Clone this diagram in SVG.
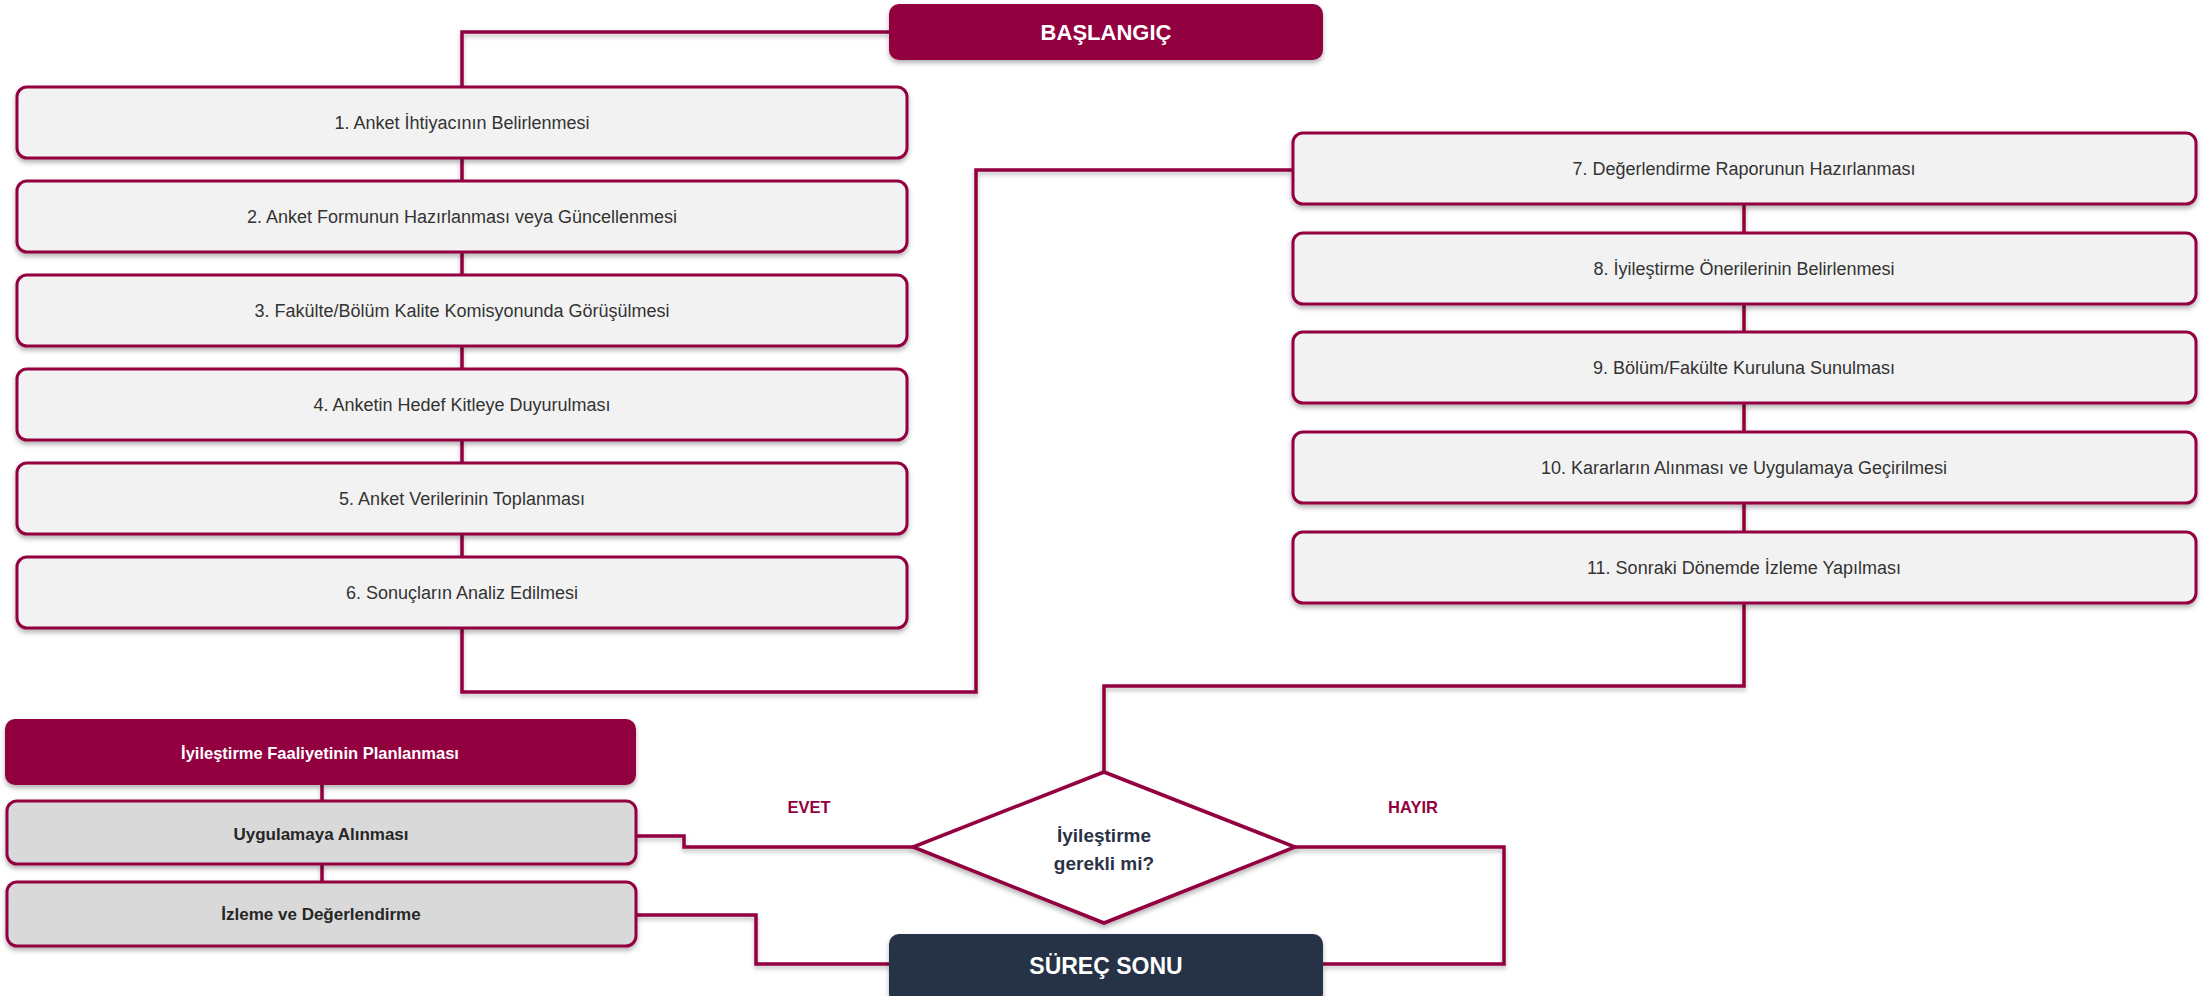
<svg xmlns="http://www.w3.org/2000/svg" width="2212" height="996" viewBox="0 0 2212 996">
<defs>
<filter id="sh" x="-5%" y="-20%" width="110%" height="150%">
<feDropShadow dx="0" dy="3" stdDeviation="2.5" flood-color="#000" flood-opacity="0.3"/>
</filter>
<filter id="lsh" filterUnits="userSpaceOnUse" x="0" y="0" width="2212" height="996">
<feDropShadow dx="0" dy="3" stdDeviation="2" flood-color="#000" flood-opacity="0.25"/>
</filter>
<style>
.step rect{fill:#f2f2f2;stroke:#930040;stroke-width:3;filter:url(#sh)}
.step text{font-family:"Liberation Sans",Arial,sans-serif;font-size:18px;fill:#333;text-anchor:middle;dominant-baseline:central}
.sub rect{fill:#d9d9d9;stroke:#930040;stroke-width:3;filter:url(#sh)}
.sub text{font-family:"Liberation Sans",Arial,sans-serif;font-size:17px;font-weight:bold;fill:#262626;text-anchor:middle;dominant-baseline:central}
.term text{font-family:"Liberation Sans",Arial,sans-serif;font-weight:bold;fill:#fff;text-anchor:middle;dominant-baseline:central}
.conn path{fill:none;stroke:#930040;stroke-width:3.5}
.lbl{font-family:"Liberation Sans",Arial,sans-serif;font-size:16.5px;font-weight:bold;fill:#930040;text-anchor:middle;dominant-baseline:central}
.dq{font-family:"Liberation Sans",Arial,sans-serif;font-size:19px;font-weight:bold;fill:#2b3245;text-anchor:middle;dominant-baseline:central}
</style>
</defs>
<rect width="2212" height="996" fill="#fff"/>
<g id="connectors" class="conn" filter="url(#lsh)">
<path d="M889 32 H462 V87"/>
<path d="M462 158 V181"/>
<path d="M462 252 V275"/>
<path d="M462 346 V369"/>
<path d="M462 440 V463"/>
<path d="M462 534 V557"/>
<path d="M462 628 V692 H976 V170 H1292"/>
<path d="M1744 204 V233"/>
<path d="M1744 304 V332"/>
<path d="M1744 403 V432"/>
<path d="M1744 503 V532"/>
<path d="M1744 603 V686 H1104 V772"/>
<path d="M1295 847 H1504 V964 H1323"/>
<path d="M913 847 H684 V836 H636"/>
<path d="M636 915 H756 V964 H890"/>
<path d="M322 785 V801"/>
<path d="M322 864 V882"/>
</g>
<g id="start" class="term"><rect x="889" y="4" width="434" height="56" rx="10" fill="#930040" filter="url(#sh)"/><text x="1106" y="32" font-size="22">BAŞLANGIÇ</text></g>
<g id="s1" class="step"><rect x="17" y="87" width="890" height="71" rx="10"/><text x="462" y="122.5">1. Anket İhtiyacının Belirlenmesi</text></g>
<g id="s2" class="step"><rect x="17" y="181" width="890" height="71" rx="10"/><text x="462" y="216.5">2. Anket Formunun Hazırlanması veya Güncellenmesi</text></g>
<g id="s3" class="step"><rect x="17" y="275" width="890" height="71" rx="10"/><text x="462" y="310.5">3. Fakülte/Bölüm Kalite Komisyonunda Görüşülmesi</text></g>
<g id="s4" class="step"><rect x="17" y="369" width="890" height="71" rx="10"/><text x="462" y="404.5">4. Anketin Hedef Kitleye Duyurulması</text></g>
<g id="s5" class="step"><rect x="17" y="463" width="890" height="71" rx="10"/><text x="462" y="498.5">5. Anket Verilerinin Toplanması</text></g>
<g id="s6" class="step"><rect x="17" y="557" width="890" height="71" rx="10"/><text x="462" y="592.5">6. Sonuçların Analiz Edilmesi</text></g>
<g id="s7" class="step"><rect x="1293" y="133" width="903" height="71" rx="10"/><text x="1744" y="168.5">7. Değerlendirme Raporunun Hazırlanması</text></g>
<g id="s8" class="step"><rect x="1293" y="233" width="903" height="71" rx="10"/><text x="1744" y="268.5">8. İyileştirme Önerilerinin Belirlenmesi</text></g>
<g id="s9" class="step"><rect x="1293" y="332" width="903" height="71" rx="10"/><text x="1744" y="367.5">9. Bölüm/Fakülte Kuruluna Sunulması</text></g>
<g id="s10" class="step"><rect x="1293" y="432" width="903" height="71" rx="10"/><text x="1744" y="467.5">10. Kararların Alınması ve Uygulamaya Geçirilmesi</text></g>
<g id="s11" class="step"><rect x="1293" y="532" width="903" height="71" rx="10"/><text x="1744" y="567.5">11. Sonraki Dönemde İzleme Yapılması</text></g>
<g id="decision"><polygon points="1104,772 1295,847 1104,923 913,847" fill="#fff" stroke="#930040" stroke-width="3.5" filter="url(#sh)"/><text class="dq" x="1104" y="835">İyileştirme</text><text class="dq" x="1104" y="863">gerekli mi?</text></g>
<text class="lbl" x="809" y="807">EVET</text>
<text class="lbl" x="1413" y="807">HAYIR</text>
<g id="plan" class="term"><rect x="5" y="719" width="631" height="66" rx="10" fill="#930040" filter="url(#sh)"/><text x="320" y="753" font-size="16.5">İyileştirme Faaliyetinin Planlanması</text></g>
<g id="apply" class="sub"><rect x="7" y="801" width="629" height="63" rx="10"/><text x="321" y="834">Uygulamaya Alınması</text></g>
<g id="monitor" class="sub"><rect x="7" y="882" width="629" height="64" rx="10"/><text x="321" y="914">İzleme ve Değerlendirme</text></g>
<g id="end" class="term"><rect x="889" y="934" width="434" height="70" rx="10" fill="#283044" filter="url(#sh)"/><text x="1106" y="966" font-size="23">SÜREÇ SONU</text></g>
</svg>
